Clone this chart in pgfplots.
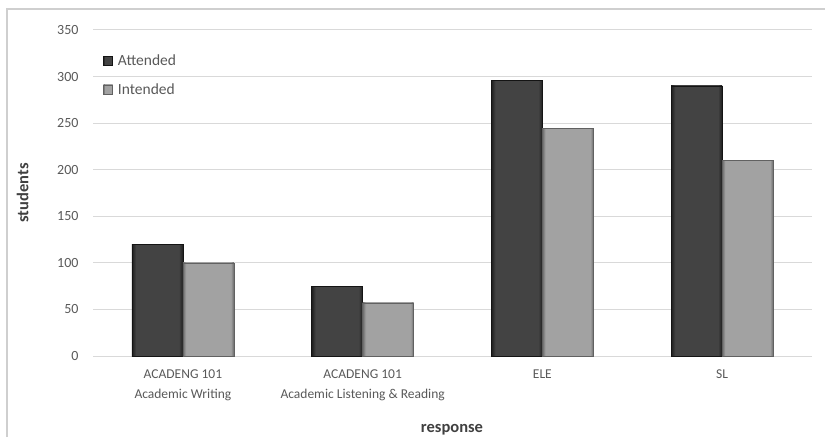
\documentclass[border=0pt]{standalone}
\usepackage{pgfplots}
\pgfplotsset{compat=1.18}
\usepackage{fontspec}
\setmainfont{Carlito}

\definecolor{gridgray}{HTML}{D9D9D9}
\definecolor{framegray}{HTML}{CFCFCF}
\definecolor{ticktext}{HTML}{595959}
\definecolor{labeltext}{HTML}{404040}
\definecolor{attedge}{HTML}{1E1E1E}
\definecolor{attbody}{HTML}{434343}
\definecolor{intedge}{HTML}{6A6A6A}
\definecolor{intbody}{HTML}{A2A2A2}

% bevelled bar faces: dark rim at both sides, flat body between
\pgfdeclarehorizontalshading{attshade}{100bp}{color(0bp)=(attedge); color(25bp)=(attedge);
  color(29bp)=(attbody); color(71bp)=(attbody); color(75bp)=(attedge); color(100bp)=(attedge)}
\pgfdeclarehorizontalshading{intshade}{100bp}{color(0bp)=(intedge); color(25bp)=(intedge);
  color(28bp)=(intbody); color(72bp)=(intbody); color(75bp)=(intedge); color(100bp)=(intedge)}

% each bar is its own plot so that its shading spans that bar only
\pgfplotsset{
  attendedbar/.style={ybar, bar width=51pt, bar shift=-25.5pt,
    draw=black!92, line width=0.7pt, shading=attshade},
  intendedbar/.style={ybar, bar width=51pt, bar shift=25.5pt,
    draw=black!62, line width=0.7pt, shading=intshade},
}

\begin{document}
\begin{tikzpicture}[x=1pt,y=1pt]
\useasboundingbox (0,0) rectangle (825,437);
\draw[framegray, line width=1.2pt] (7,0) -- (7,428) -- (825,428);
\begin{axis}[
  at={(93pt,81pt)}, anchor=south west,
  scale only axis, width=719pt, height=326pt,
  xmin=-0.5, xmax=3.5, ymin=0, ymax=350,
  ytick={0,50,...,350},
  xtick={0,1,2,3},
  xticklabels={{ACADENG 101\\Academic Writing},
               {ACADENG 101\\Academic Listening \& Reading},
               {ELE},{SL}},
  xticklabel style={align=center, text=ticktext,
    font=\fontsize{13.5}{20.5}\selectfont, yshift=-10pt},
  yticklabel style={text=ticktext, font=\fontsize{14}{16}\selectfont, xshift=-11pt},
  /pgf/number format/assume math mode=true,
  ymajorgrids, grid style={gridgray, line width=1pt},
  axis line style={draw=none},
  major tick length=0pt,
  xlabel={response}, ylabel={students},
  xlabel style={at={(axis description cs:0.4993,-0.227)}, anchor=center,
    font=\bfseries\fontsize{16.5}{18}\selectfont, text=labeltext},
  ylabel style={at={(axis description cs:-0.098,0.5)}, anchor=center,
    font=\bfseries\fontsize{16.5}{18}\selectfont, text=labeltext},
  legend style={draw=none, fill=none, inner sep=0pt,
    at={(axis description cs:0.014,0.93)}, anchor=north west,
    font=\fontsize{15.5}{17}\selectfont, text=ticktext,
    row sep=12pt},
  legend cell align=left,
  legend image code/.code={\path[#1] (0pt,-4.5pt) rectangle (9pt,4.5pt);},
  /tikz/every odd column/.append style={column sep=3pt},
]
% Attended
\addplot[attendedbar] coordinates {(0,120)};
\addlegendentry{Attended}
\addplot[attendedbar, forget plot] coordinates {(1,75)};
\addplot[attendedbar, forget plot] coordinates {(2,296)};
\addplot[attendedbar, forget plot] coordinates {(3,290)};
% Intended
\addplot[intendedbar] coordinates {(0,100)};
\addlegendentry{Intended}
\addplot[intendedbar, forget plot] coordinates {(1,57)};
\addplot[intendedbar, forget plot] coordinates {(2,244)};
\addplot[intendedbar, forget plot] coordinates {(3,210)};
\end{axis}
\end{tikzpicture}
\end{document}
